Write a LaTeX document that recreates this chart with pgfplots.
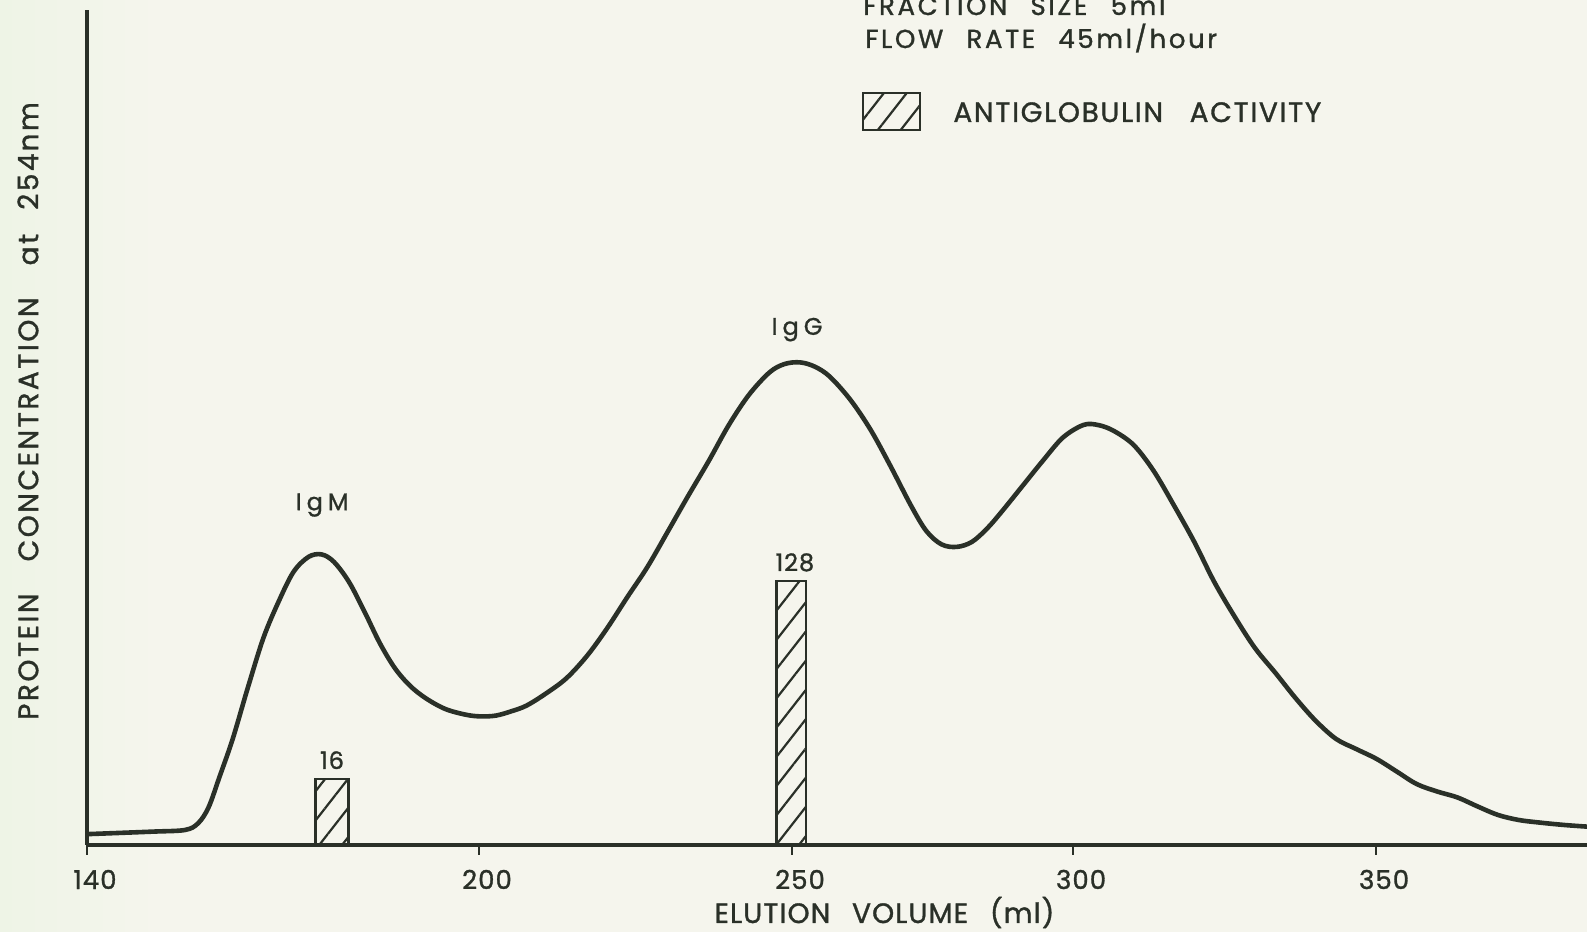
\documentclass[border=0pt]{standalone}
\usepackage{fontspec}
\setmainfont{Poppins}[LetterSpace=4,WordSpace=1.6,UprightFeatures={FakeBold=1.2}]
\usepackage{pgfplots}
\pgfplotsset{compat=1.18}
\usetikzlibrary{patterns.meta}

\definecolor{paper}{RGB}{245,245,237}
\definecolor{paperleft}{RGB}{238,244,230}
\definecolor{ink}{RGB}{42,48,40}

% Protein absorbance trace (arbitrary units, full scale = 1)
\pgfplotstableread{
ml     A
140.0  0.013
150.0  0.016
155.0  0.018
157.0  0.026
158.6  0.045
160.3  0.082
162.3  0.127
164.6  0.188
167.0  0.248
169.3  0.291
171.6  0.327
173.9  0.345
175.9  0.348
177.8  0.339
180.1  0.315
182.5  0.279
184.8  0.242
187.1  0.212
189.4  0.191
191.8  0.176
194.8  0.163
198.0  0.156
200.3  0.154
202.7  0.155
205.1  0.160
207.6  0.167
210.8  0.182
214.0  0.200
217.3  0.227
220.5  0.260
223.7  0.297
226.9  0.333
230.2  0.376
233.4  0.418
236.7  0.460
239.9  0.503
243.1  0.539
246.4  0.566
248.8  0.576
251.4  0.578
254.0  0.573
256.7  0.561
260.4  0.533
264.0  0.497
267.5  0.454
271.2  0.406
273.9  0.376
276.6  0.360
279.3  0.357
282.0  0.363
284.7  0.379
287.4  0.400
291.0  0.430
294.6  0.460
298.2  0.488
301.7  0.503
304.1  0.503
306.7  0.496
310.0  0.479
313.3  0.448
316.7  0.406
320.0  0.363
323.3  0.315
326.7  0.273
330.0  0.236
333.4  0.206
336.7  0.176
340.0  0.149
343.4  0.127
346.7  0.115
350.1  0.103
353.4  0.088
356.7  0.073
360.1  0.064
363.4  0.057
366.8  0.046
370.1  0.036
373.5  0.030
376.8  0.027
381.0  0.024
384.8  0.022
}\trace

% The elution-volume scale is hand ruled with unequal tick spacing:
% map ml piecewise onto the axis length (one unit = 0.5pt).
\pgfplotsset{
  elution scale/.style={
    x coord trafo/.code={%
      \begingroup
      \pgfkeys{/pgf/fpu=true, /pgf/fpu/output format=fixed}%
      \pgfmathparse{(##1<200) ? ((##1-140)*6.5333) : ((##1<250) ? (392+(##1-200)*6.26) : ((##1<300) ? (705+(##1-250)*5.62) : (986+(##1-300)*6.06)))}%
      \pgfmathsmuggle\pgfmathresult
      \endgroup},
    xmin=140, xmax=384.8,
    at={(0,0)}, anchor=south west,
    scale only axis, width=750pt, height=417.5pt,
  },
}
\tikzset{hatch/.style={pattern={Lines[angle=52,distance=9pt,line width=1.1pt]}, pattern color=ink}}

\newcommand\sizeL{\fontsize{14}{16}\selectfont}
\newcommand\sizeM{\fontsize{13}{15}\selectfont}
\newcommand\sizeS{\fontsize{12}{14}\selectfont}

\begin{document}
\begin{tikzpicture}
\fill[paper] (-43.5pt,-43.5pt) rectangle (750pt,422.5pt);
\shade[left color=paperleft, right color=paper] (-43.5pt,-43.5pt) rectangle (36pt,422.5pt);

\begin{axis}[
  elution scale,
  ymin=0, ymax=1,
  axis x line=bottom, axis y line=left,
  axis line style={-, line width=1.8pt, draw=ink},
  xtick={140,200,250,300,350},
  xticklabels={140,200,250,300,350},
  ytick=\empty,
  tick align=outside,
  major tick length=5pt,
  tick style={line width=1.1pt, draw=ink},
  xticklabel style={anchor=base, yshift=-17pt, xshift=4pt, font=\sizeM, text=ink},
  clip=false,
]
\addplot[ink, line width=2.3pt, smooth, tension=0.55] table[x=ml, y=A] {\trace};
\addplot[draw=none, mark=none, nodes near coords, point meta=explicit symbolic,
  every node near coord/.append style={anchor=base, font=\sizeS, text=ink}]
  coordinates {(176.0,0.401) [I\hspace{2.5pt}g\hspace{2.5pt}M] (250.9,0.611) [I\hspace{2.5pt}g\hspace{2.5pt}G]};
\end{axis}

% antiglobulin titres, log2 scale starting at 8
\begin{axis}[
  elution scale,
  ymode=log, log basis y=2,
  ymin=8, ymax=51400,
  hide axis,
  clip=false,
]
\addplot[draw=ink, line width=1.2pt, hatch] coordinates {(175,8) (175,16) (180,16) (180,8)} --cycle;
\addplot[draw=ink, line width=1.2pt, hatch] coordinates {(247.5,8) (247.5,128) (252.5,128) (252.5,8)} --cycle;
\addplot[draw=none, mark=none, nodes near coords, point meta=explicit symbolic,
  every node near coord/.append style={anchor=base, yshift=5pt, font=\sizeS, text=ink}]
  coordinates {(177.5,16) [16] (250.5,128) [128]};
\end{axis}

\node[rotate=90, text=ink, font=\sizeL\addfontfeatures{LetterSpace=9}] at (-29.5pt,217pt) {PROTEIN\hspace{8pt} CONCENTRATION\hspace{8pt} at\hspace{4pt} 254\hspace{1pt}nm};
\node[anchor=base, text=ink, font=\sizeL] at (398.75pt,-39pt) {ELUTION\hspace{4pt} VOLUME\hspace{4pt} (ml)};

\node[anchor=base west, inner sep=0pt, text=ink, font=\sizeM\addfontfeatures{LetterSpace=10}] at (388pt,415pt) {FRACTION\hspace{4pt} SIZE\hspace{4pt} 5ml};
\node[anchor=base west, inner sep=0pt, text=ink, font=\sizeM\addfontfeatures{LetterSpace=10}] at (389pt,398.5pt) {FLOW\hspace{4pt} RATE\hspace{4pt} 45ml/hour};
\draw[ink, line width=1.2pt, hatch] (388pt,357.5pt) rectangle (416.5pt,376pt);
\node[anchor=base west, inner sep=0pt, text=ink, font=\sizeL\addfontfeatures{LetterSpace=6}] at (433pt,361.5pt) {ANTIGLOBULIN\hspace{6pt} ACTIVITY};

\pgfresetboundingbox
\path[use as bounding box] (-43.5pt,-43.5pt) rectangle (750pt,422.5pt);
\end{tikzpicture}
\end{document}
